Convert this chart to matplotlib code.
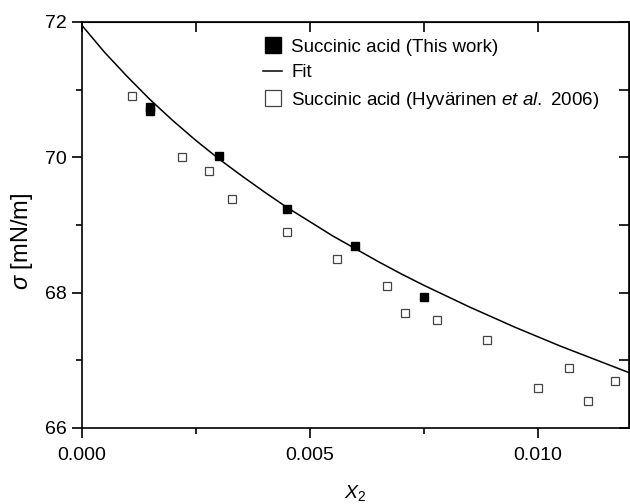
import numpy as np
import matplotlib
matplotlib.use("Agg")
import matplotlib.pyplot as plt
from matplotlib.ticker import MultipleLocator

plt.rcParams['font.family'] = ['Liberation Sans', 'DejaVu Sans']
plt.rcParams['mathtext.fontset'] = 'custom'
plt.rcParams['mathtext.rm'] = 'Liberation Sans'
plt.rcParams['mathtext.it'] = 'Liberation Sans:italic'

# succinic acid, this work
x_this = [0.0015, 0.0015, 0.0030, 0.0045, 0.0060, 0.0075]
s_this = [70.75, 70.68, 70.02, 69.23, 68.69, 67.93]

# Hyvarinen et al. 2006
x_hyv = [0.0011, 0.0022, 0.0028, 0.0033, 0.0045, 0.0056, 0.0067,
         0.0071, 0.0078, 0.0089, 0.0100, 0.0107, 0.0111, 0.0117]
s_hyv = [70.90, 70.00, 69.80, 69.39, 68.90, 68.49, 68.10,
         67.70, 67.59, 67.30, 66.59, 66.89, 66.40, 66.70]

# fit curve
x_fit = [0.0, 0.0005, 0.001, 0.0015, 0.002, 0.0025, 0.003, 0.0035, 0.004,
         0.0045, 0.005, 0.0055, 0.006, 0.0065, 0.007, 0.0075, 0.008,
         0.0085, 0.009, 0.0095, 0.010, 0.0105, 0.011, 0.0115, 0.012]
s_fit = [71.95, 71.55, 71.19, 70.85, 70.54, 70.25, 69.98, 69.73, 69.49,
         69.26, 69.05, 68.84, 68.65, 68.46, 68.28, 68.11, 67.95,
         67.79, 67.64, 67.49, 67.35, 67.21, 67.08, 66.95, 66.82]

fig = plt.figure(figsize=(6.3, 5.04), dpi=100)
ax = fig.add_axes([0.130, 0.1508, 0.868, 0.8056])

ax.plot(x_this, s_this, 's', color='black', ms=6, label='Succinic acid (This work)')
ax.plot(x_fit, s_fit, '-', color='black', lw=1.1, label='Fit')
ax.plot(x_hyv, s_hyv, 's', mfc='white', mec='#444444', mew=0.9, ms=6.2,
        label=r'Succinic acid (Hyvärinen $et\ al.\ $2006)')

ax.set_xlim(0, 0.012)
ax.set_ylim(66, 72)
ax.xaxis.set_major_locator(MultipleLocator(0.005))
ax.xaxis.set_minor_locator(MultipleLocator(0.0025))
ax.yaxis.set_major_locator(MultipleLocator(2))
ax.yaxis.set_minor_locator(MultipleLocator(1))
ax.xaxis.set_major_formatter(matplotlib.ticker.FormatStrFormatter('%.3f'))

for sp in ax.spines.values():
    sp.set_linewidth(1.2)

ax.tick_params(which='both', direction='out', width=1.2, labelsize=14,
               top=False, right=False)
ax.tick_params(which='major', length=7)
ax.tick_params(which='minor', length=4.5)
ax.tick_params(axis='y', pad=4)
ax.tick_params(axis='x', pad=7)

# inward ticks on the top and right edges
axt = ax.secondary_xaxis('top')
axt.xaxis.set_major_locator(MultipleLocator(0.0025))
axt.tick_params(direction='in', length=7, width=1.2, labeltop=False)
axr = ax.secondary_yaxis('right')
axr.yaxis.set_major_locator(MultipleLocator(1))
axr.tick_params(direction='in', length=7, width=1.2, labelright=False)

ax.set_xlabel('$X_2$', fontsize=14)
ax.xaxis.set_label_coords(0.5, -0.135)
ax.set_ylabel(r'$\sigma$ [mN/m]', fontsize=17)
ax.yaxis.set_label_coords(-0.085, 0.46)

leg = ax.legend(loc='upper left', bbox_to_anchor=(0.318, 0.978), frameon=False,
                fontsize=13.5, markerscale=1.85, handlelength=1.0,
                handletextpad=0.5, labelspacing=0.45, borderaxespad=0)

fig.savefig('out.png', dpi=100)
